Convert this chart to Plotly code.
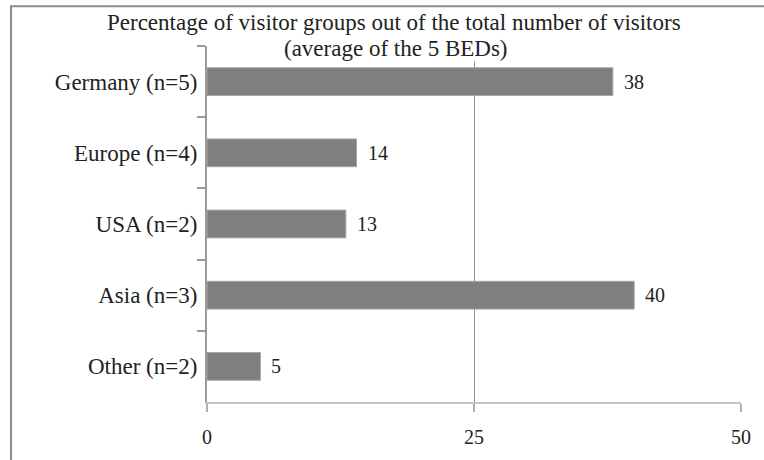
import plotly.graph_objects as go

# Visitor groups and their share of all visitors (percent)
categories = ["Germany (n=5)", "Europe (n=4)", "USA (n=2)", "Asia (n=3)", "Other (n=2)"]
shares = [38, 14, 13, 40, 5]
x_ticks = [0, 25, 50]

title_line1 = "Percentage of visitor groups out of the total number of visitors"
title_line2 = "(average of the 5 BEDs)"

W, H = 764, 460
L, R, T, B = 207, 23, 46, 56
plot_w = W - L - R
plot_h = H - T - B


def px_x(px):
    return (px - L) / plot_w


def px_y(py):
    return (H - B - py) / plot_h


FONT = "Liberation Serif, Times New Roman, serif"

fig = go.Figure()
fig.add_trace(go.Bar(
    x=shares,
    y=categories,
    orientation="h",
    width=0.39,
    marker=dict(color="#7f7f7f", line=dict(color="#a6a6a6", width=1)),
    hoverinfo="skip",
))

annotations = []
for cat, val in zip(categories, shares):
    annotations.append(dict(
        x=val, y=cat, xref="x", yref="y",
        text=str(val), showarrow=False,
        xanchor="left", yanchor="middle", xshift=9,
        font=dict(family=FONT, size=20, color="#222222"),
    ))

annotations.append(dict(
    x=px_x(394), y=px_y(22), xref="paper", yref="paper",
    text=title_line1, showarrow=False,
    xanchor="center", yanchor="middle",
    font=dict(family=FONT, size=23, color="#222222"),
))
annotations.append(dict(
    x=px_x(396), y=px_y(49), xref="paper", yref="paper",
    text=title_line2, showarrow=False,
    xanchor="center", yanchor="middle", bgcolor="white", borderpad=0,
    font=dict(family=FONT, size=23, color="#222222"),
))

fig.update_layout(
    width=W, height=H,
    margin=dict(l=L, r=R, t=T, b=B),
    paper_bgcolor="white",
    plot_bgcolor="white",
    showlegend=False,
    annotations=annotations,
    shapes=[dict(
        type="rect", xref="paper", yref="paper",
        x0=px_x(11), x1=px_x(800), y0=px_y(6), y1=px_y(490),
        line=dict(color="#8c8c8c", width=2), fillcolor="rgba(0,0,0,0)",
        layer="below",
    )],
    xaxis=dict(
        range=[0, 50], tickvals=x_ticks, ticktext=[str(v) for v in x_ticks],
        showgrid=True, gridcolor="#8f8f8f", gridwidth=1,
        zeroline=False, showline=True, linecolor="#c4c4c4", linewidth=2,
        ticks="outside", ticklen=8, tickcolor="#b0b0b0", tickwidth=2,
        ticklabelstandoff=8,
        tickfont=dict(family=FONT, size=20, color="#222222"),
        fixedrange=True,
    ),
    yaxis=dict(
        categoryorder="array", categoryarray=categories, autorange="reversed",
        tickson="boundaries", ticks="outside", ticklen=8,
        tickcolor="#9a9a9a", tickwidth=2,
        showline=True, linecolor="#9a9a9a", linewidth=2,
        showgrid=False, zeroline=False,
        ticklabelstandoff=3,
        tickfont=dict(family=FONT, size=23, color="#222222"),
        fixedrange=True,
    ),
)

fig.write_html("out.html")
